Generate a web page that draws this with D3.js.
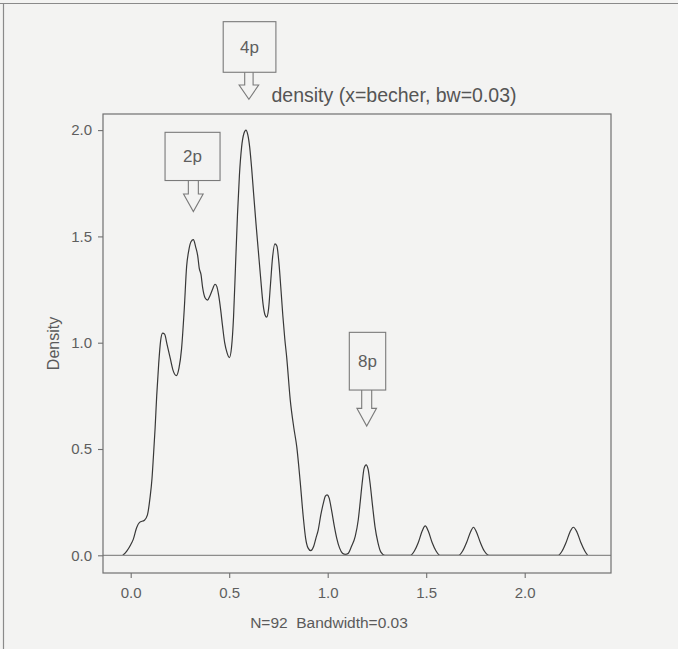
<!DOCTYPE html>
<html>
<head>
<meta charset="utf-8">
<script src="https://cdn.jsdelivr.net/npm/d3@7"></script>
<style>
  html, body { margin: 0; padding: 0; background: #f3f3f2; }
  svg { display: block; }
  text { font-family: "Liberation Sans", Arial, sans-serif; fill: #555; }
</style>
</head>
<body>
<script>
// density estimate
var density_x = [-0.04, -0.02, 0.0, 0.013, 0.03, 0.045, 0.07, 0.085, 0.098, 0.108, 0.115, 0.124, 0.132, 0.142,
  0.152, 0.162, 0.172, 0.185, 0.2, 0.215, 0.232, 0.245, 0.258, 0.272, 0.284, 0.294, 0.306, 0.318, 0.33, 0.34,
  0.348, 0.357, 0.365, 0.378, 0.39, 0.402, 0.415, 0.428, 0.437, 0.447, 0.456, 0.466, 0.477, 0.49, 0.501, 0.512,
  0.522, 0.532, 0.542, 0.552, 0.563, 0.575, 0.585, 0.594, 0.604, 0.614, 0.624, 0.636, 0.648, 0.66, 0.672, 0.682,
  0.69, 0.7, 0.71, 0.72, 0.732, 0.742, 0.752, 0.762, 0.772, 0.782, 0.792, 0.81, 0.828, 0.843, 0.86, 0.876, 0.888,
  0.9, 0.914, 0.928, 0.94, 0.952, 0.965, 0.978, 0.988, 0.997, 1.007, 1.02, 1.033, 1.046, 1.06, 1.075, 1.09, 1.105,
  1.12, 1.14, 1.155, 1.165, 1.175, 1.185, 1.195, 1.205, 1.215, 1.228, 1.24, 1.255, 1.27, 1.29,
  1.42, 1.44, 1.46, 1.48, 1.495, 1.51, 1.53, 1.55, 1.57,
  1.665, 1.685, 1.705, 1.725, 1.74, 1.755, 1.775, 1.795, 1.82,
  2.17, 2.19, 2.21, 2.23, 2.247, 2.265, 2.285, 2.305, 2.32];
var density_y = [0, 0.02, 0.05, 0.075, 0.13, 0.155, 0.165, 0.19, 0.27, 0.36, 0.46, 0.6, 0.75, 0.9,
  1.01, 1.045, 1.04, 0.99, 0.93, 0.87, 0.845, 0.88, 0.97, 1.16, 1.36, 1.43, 1.475, 1.485, 1.45, 1.41,
  1.35, 1.32, 1.26, 1.21, 1.2, 1.22, 1.25, 1.275, 1.265, 1.22, 1.16, 1.08, 1.0, 0.95, 0.93, 0.98,
  1.12, 1.36, 1.6, 1.79, 1.92, 1.985, 2.0, 1.98, 1.92, 1.82, 1.7, 1.56, 1.43, 1.3, 1.18, 1.13,
  1.12, 1.16, 1.28, 1.4, 1.465, 1.455, 1.38, 1.26, 1.13, 1.02, 0.93, 0.73, 0.6, 0.51, 0.35, 0.18, 0.08,
  0.035, 0.022, 0.04, 0.08, 0.12, 0.19, 0.245, 0.278, 0.284, 0.27, 0.21, 0.14, 0.08, 0.035, 0.01, 0.004, 0.01,
  0.04, 0.09, 0.166, 0.25, 0.34, 0.41, 0.425, 0.405, 0.34, 0.23, 0.135, 0.06, 0.015, 0,
  0, 0.02, 0.06, 0.115, 0.138, 0.115, 0.06, 0.02, 0,
  0, 0.02, 0.06, 0.11, 0.132, 0.11, 0.06, 0.02, 0,
  0, 0.02, 0.06, 0.11, 0.132, 0.11, 0.06, 0.02, 0];

var x_ticks = [0, 0.5, 1, 1.5, 2];
var y_ticks = [0, 0.5, 1, 1.5, 2];

// arrows: label, x the arrow points at, y of the arrow tip
var ann_labels = ["4p", "2p", "8p"];
var ann_x = [0.6, 0.318, 1.198];
var ann_tip_y = [2.145, 1.617, 0.608];

var title_text = "density (x=becher, bw=0.03)";
var sub_text = "N=92  Bandwidth=0.03";
var y_label = "Density";

// layout
var width = 678, height = 649;
var box = {left: 103, right: 611, top: 114, bottom: 573};
// box of each arrow label, relative to tip: [left, right, top, bottom, headTop, stemHalf]
var ann_geom = [
  [-25.7, 27, -77.6, -27, -14.3, 4.2],
  [-28.3, 26.7, -79.2, -31, -17.5, 5],
  [-17.4, 19, -93.7, -36, -17.7, 5]
];
var head_half = 9.8;

var svg = d3.select("body").append("svg")
  .attr("width", width)
  .attr("height", height);

var x = d3.scaleLinear().domain([0, 2]).range([130.7, 524.7]);
var y = d3.scaleLinear().domain([0, 2]).range([555.3, 130.1]);

// page frame from the scan
svg.append("line")
  .attr("x1", 0).attr("x2", width).attr("y1", 3.5).attr("y2", 3.5)
  .style("stroke", "#8a8a8a").style("stroke-width", 1.2);
svg.append("line")
  .attr("x1", 3.5).attr("x2", 3.5).attr("y1", 3.5).attr("y2", height)
  .style("stroke", "#8a8a8a").style("stroke-width", 1.2);

function drawCurve() {
  var pts = density_x.map((d, i) => [d, density_y[i]]);
  var line = d3.line()
    .x(d => x(d[0]))
    .y(d => y(d[1]))
    .curve(d3.curveMonotoneX);
  svg.append("path")
    .datum(pts)
    .attr("class", "density")
    .attr("d", line)
    .style("fill", "none")
    .style("stroke", "#383838")
    .style("stroke-width", 1.2)
    .style("stroke-linejoin", "round");

  svg.append("line")
    .attr("class", "zero")
    .attr("x1", box.left).attr("x2", box.right)
    .attr("y1", y(0)).attr("y2", y(0))
    .style("stroke", "#8c8c8c")
    .style("stroke-width", 1.3);
}

function drawAxes() {
  svg.append("rect")
    .attr("x", box.left).attr("y", box.top)
    .attr("width", box.right - box.left)
    .attr("height", box.bottom - box.top)
    .style("fill", "none")
    .style("stroke", "#707070")
    .style("stroke-width", 1.2);

  var xAxis = svg.append("g")
    .attr("transform", "translate(0," + box.bottom + ")")
    .call(d3.axisBottom(x).tickValues(x_ticks).tickFormat(d3.format(".1f")).tickSize(5).tickPadding(9));
  var yAxis = svg.append("g")
    .attr("transform", "translate(" + box.left + ",0)")
    .call(d3.axisLeft(y).tickValues(y_ticks).tickFormat(d3.format(".1f")).tickSize(5).tickPadding(6));

  [xAxis, yAxis].forEach(g => {
    g.select(".domain").remove();
    g.selectAll("line").style("stroke", "#707070").style("stroke-width", 1.1);
    g.selectAll("text")
      .style("font-family", "'Liberation Sans', Arial, sans-serif")
      .style("font-size", "15px")
      .style("fill", "#5e5e5e");
  });
}

function drawLabels() {
  svg.append("text")
    .attr("x", 394).attr("y", 101.7)
    .attr("text-anchor", "middle")
    .style("font-size", "19.5px")
    .style("fill", "#555")
    .text(title_text);

  svg.append("text")
    .attr("x", 329).attr("y", 628)
    .attr("text-anchor", "middle")
    .style("font-size", "15.5px")
    .style("white-space", "pre")
    .style("fill", "#5a5a5a")
    .text(sub_text);

  svg.append("text")
    .attr("transform", "translate(59," + ((box.top + box.bottom) / 2) + ") rotate(-90)")
    .attr("text-anchor", "middle")
    .style("font-size", "16px")
    .style("fill", "#5a5a5a")
    .text(y_label);
}

function drawArrows() {
  var g = svg.selectAll("g.ann")
    .data(ann_labels)
    .enter()
    .append("g")
    .attr("class", "ann");

  g.append("rect")
    .attr("x", (d, i) => x(ann_x[i]) + ann_geom[i][0])
    .attr("y", (d, i) => y(ann_tip_y[i]) + ann_geom[i][2])
    .attr("width", (d, i) => ann_geom[i][1] - ann_geom[i][0])
    .attr("height", (d, i) => ann_geom[i][3] - ann_geom[i][2])
    .style("fill", "none")
    .style("stroke", "#7a7a7a")
    .style("stroke-width", 1.1);

  g.append("path")
    .attr("d", (d, i) => {
      var tx = x(ann_x[i]), ty = y(ann_tip_y[i]);
      var gm = ann_geom[i], s = gm[5];
      var b = ty + gm[3], h = ty + gm[4];
      return "M" + (tx - s) + "," + b + "L" + (tx - s) + "," + h +
        "L" + (tx - head_half) + "," + h + "L" + tx + "," + ty +
        "L" + (tx + head_half) + "," + h + "L" + (tx + s) + "," + h +
        "L" + (tx + s) + "," + b;
    })
    .style("fill", "none")
    .style("stroke", "#7a7a7a")
    .style("stroke-width", 1.1)
    .style("stroke-linejoin", "miter");

  g.append("text")
    .attr("x", (d, i) => x(ann_x[i]) + (ann_geom[i][0] + ann_geom[i][1]) / 2)
    .attr("y", (d, i) => y(ann_tip_y[i]) + (ann_geom[i][2] + ann_geom[i][3]) / 2 + 6)
    .attr("text-anchor", "middle")
    .style("font-size", "17px")
    .style("fill", "#5e5e5e")
    .text(d => d);
}

drawCurve();
drawAxes();
drawLabels();
drawArrows();
</script>
</body>
</html>
